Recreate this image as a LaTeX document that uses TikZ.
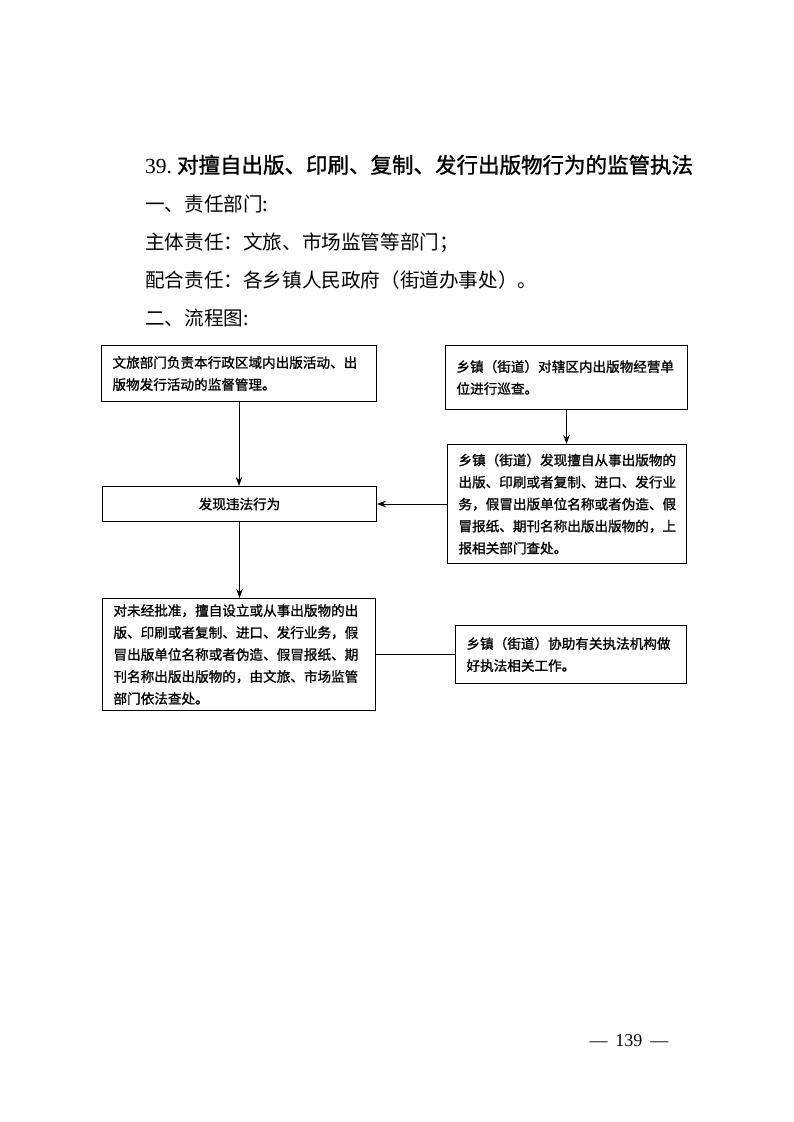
\documentclass[tikz,border=0pt]{standalone}
\usepackage{fontspec}
\setmainfont{Liberation Serif}
\newfontfamily\cjk{Noto Sans CJK SC}
\newfontfamily\cjkfett{Noto Sans CJK SC}[FakeBold=1.2]
\usepackage{tikz}
\usetikzlibrary{arrows.meta, positioning}

\begin{document}
\begin{tikzpicture}[
    x=1pt, y=-1pt,
    kasten/.style={draw, line width=1pt, anchor=north west, align=left,
      inner xsep=11pt, inner ysep=0pt, font=\cjkfett\fontsize{13.6}{22}\selectfont},
    kopf/.style={anchor=base west, inner sep=0pt, font=\cjk\fontsize{19.6}{24}\selectfont},
    pfeil/.style={line width=1pt, -{Stealth[length=9pt,width=6.5pt]}},
    linie/.style={line width=0.9pt},
  ]
  \useasboundingbox (0,0) rectangle (793,1122);

  % Kopfzeilen
  \node[kopf, font=\cjkfett\fontsize{21.5}{26}\selectfont] (titel) at (145,173)
    {{\rmfamily 39.}\hspace{5pt}对擅自出版、印刷、复制、发行出版物行为的监管执法};
  \node[kopf] (zeile1) at (145,211) {一、责任部门:};
  \node[kopf] (zeile2) at (145,249) {主体责任：文旅、市场监管等部门；};
  \node[kopf] (zeile3) at (145,287) {配合责任：各乡镇人民政府（街道办事处）。};
  \node[kopf] (zeile4) at (145,325) {二、流程图:};

  % Kästen
  \node[kasten, text width=253pt, minimum height=56pt] (wenlv) at (101,345)
    {文旅部门负责本行政区域内出版活动、出\\版物发行活动的监督管理。};
  \node[kasten, text width=220pt, minimum height=64pt] (xuncha) at (445,345)
    {乡镇（街道）对辖区内出版物经营单\\位进行巡查。};
  \node[kasten, text width=217pt, minimum height=119pt] (baogao) at (447,444)
    {乡镇（街道）发现擅自从事出版物的\\出版、印刷或者复制、进口、发行业\\务，假冒出版单位名称或者伪造、假\\冒报纸、期刊名称出版出版物的，上\\报相关部门查处。};
  \node[kasten, align=center, minimum width=274pt, minimum height=35pt] (faxian) at (102,486)
    {发现违法行为};
  \node[kasten, text width=251pt, minimum height=112pt] (chachu) at (102,598)
    {对未经批准，擅自设立或从事出版物的出\\版、印刷或者复制、进口、发行业务，假\\冒出版单位名称或者伪造、假冒报纸、期\\刊名称出版出版物的，由文旅、市场监管\\部门依法查处。};
  \node[kasten, text width=209pt, minimum height=58pt] (xiezhu) at (455,625)
    {乡镇（街道）协助有关执法机构做\\好执法相关工作。};

  % Pfeile
  \draw[pfeil] (wenlv.south) -- (wenlv.south |- faxian.north);
  \draw[pfeil] (xuncha.south) -- (xuncha.south |- baogao.north);
  \draw[pfeil] (baogao.west) -- (baogao.west -| faxian.east);
  \draw[pfeil] (faxian.south) -- (faxian.south |- chachu.north);
  \draw[linie] (chachu.east) -- (xiezhu.west);

  % Seitenzahl
  \node[anchor=base, inner sep=0pt, font=\fontsize{18}{20}\selectfont] (seite) at (629,1046)
    {—\hspace{8pt}139\hspace{8pt}—};
\end{tikzpicture}
\end{document}
